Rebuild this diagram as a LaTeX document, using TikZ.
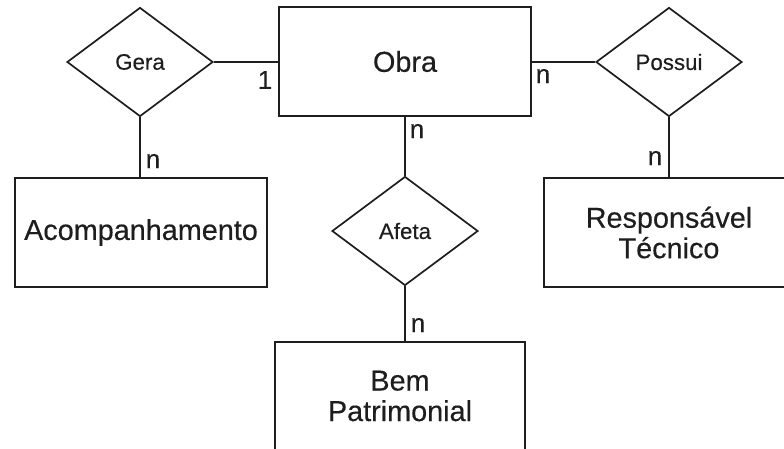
\documentclass[tikz,border=0pt]{standalone}
\usepackage{fontspec}
\setmainfont{Liberation Sans}[FakeBold=0.3]
\usetikzlibrary{shapes.geometric}
\definecolor{ink}{HTML}{1E1E1E}
\begin{document}
\begin{tikzpicture}[x=1pt,y=-1pt,
  entity/.style={draw=ink,line width=1.7pt,rectangle,inner sep=0pt,
    minimum width=252pt,minimum height=109pt,align=center,text=ink,
    font=\fontsize{28.8}{30.5}\selectfont},
  relation/.style={draw=ink,line width=1.7pt,diamond,inner sep=0pt,
    minimum width=146pt,minimum height=109pt,text=ink,
    font=\fontsize{22.3}{25}\selectfont},
  card/.style={text=ink,inner sep=0pt,font=\fontsize{26}{28}\selectfont},
  link/.style={draw=ink,line width=1.7pt}]
  \useasboundingbox (0,0) rectangle (784,448);
  \clip (0,0) rectangle (784,448);
  \fill[white] (0,0) rectangle (784,448);

  % entities
  \node[entity] (obra) at (405,61.5) {Obra};
  \node[entity] (acomp) at (141,232.5) {Acompanhamento};
  \node[entity,minimum width=250pt] (resp) at (669,232.5) {Responsável\\Técnico};
  \node[entity,minimum width=250pt,minimum height=108pt] (bem) at (400,396) {Bem\\Patrimonial};

  % relationships
  \node[relation] (gera) at (140,62) {Gera};
  \node[relation] (possui) at (669,62) {Possui};
  \node[relation] (afeta) at (405,231) {Afeta};

  % connectors
  \draw[link] (gera.east) -- (obra.west |- gera.east);
  \draw[link] (gera.south) -- (gera.south |- acomp.north);
  \draw[link] (obra.east |- possui.west) -- (possui.west);
  \draw[link] (possui.south) -- (possui.south |- resp.north);
  \draw[link] (obra.south -| afeta.north) -- (afeta.north);
  \draw[link] (afeta.south) -- (afeta.south |- bem.north);

  % cardinalities
  \node[card] (c1) at (265,80) {1};
  \node[card] (c2) at (543,76) {n};
  \node[card] (c3) at (417,131) {n};
  \node[card] (c4) at (153,161) {n};
  \node[card] (c5) at (655,158) {n};
  \node[card] (c6) at (418,325) {n};
\end{tikzpicture}
\end{document}
